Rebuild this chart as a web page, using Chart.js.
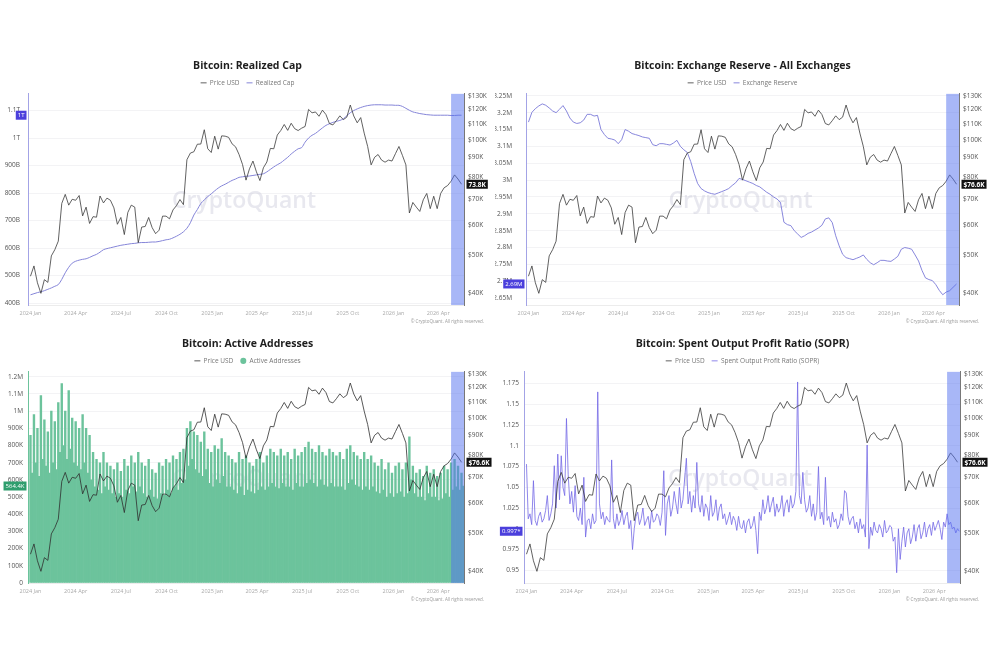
<!DOCTYPE html>
<html><head><meta charset="utf-8">
<script src="https://cdn.jsdelivr.net/npm/chart.js@4.4.1/dist/chart.umd.min.js"></script>
<style>
html,body{margin:0;padding:0;background:#fff;width:990px;height:660px;overflow:hidden;}
canvas{position:absolute;}
</style></head><body>
<canvas id="c1" width="495" height="278" style="left:0px;top:50px"></canvas>
<canvas id="c2" width="495" height="278" style="left:495px;top:50px"></canvas>
<canvas id="c3" width="495" height="278" style="left:0px;top:328px"></canvas>
<canvas id="c4" width="495" height="278" style="left:495px;top:328px"></canvas>
<script>
// ---- x axis (days since 2024-01-01) ----
const quarterTickDays = [0, 91, 182, 274, 366, 456, 547, 639, 731, 821];
const quarterTickLabels = ['2024 Jan','2024 Apr','2024 Jul','2024 Oct','2025 Jan','2025 Apr','2025 Jul','2025 Oct','2026 Jan','2026 Apr'];
const highlightStartDay = 847; // 2026-04-27

// ---- weekly series (from 2024-01-01, every 7 days) ----
const priceUSD = [ // $K
  44.2,47.0,42.5,39.9,43.3,42.6,49.9,51.8,54.5,68.3,
  72.1,67.6,70.0,69.6,71.6,63.4,66.8,60.6,63.1,62.9,
  71.4,68.5,70.5,69.6,66.5,60.3,62.8,56.7,64.7,67.6,
  66.8,54.0,59.3,59.5,62.8,59.1,57.0,58.2,63.3,63.3,
  62.3,65.7,67.4,69.9,67.8,88.7,92.3,93.0,97.3,97.4,
  106.1,94.7,92.6,102.1,94.5,102.3,102.1,101.4,97.5,95.8,
  91.5,86.2,78.5,84.0,88.0,82.5,78.3,84.5,87.5,94.9,
  94.7,102.8,105.6,109.5,105.7,110.3,106.8,105.6,107.1,108.2,
  119.8,117.4,118.0,115.0,119.3,116.2,110.1,109.2,112.0,115.3,
  112.7,114.4,123.0,115.2,110.6,114.1,104.0,96.0,86.0,90.0,
  91.5,88.5,87.4,88.5,88.0,92.0,96.0,91.0,86.0,64.5,
  68.7,66.8,65.1,69.8,72.5,66.2,71.3,66.2,72.5,75.0,
  76.0,78.0,81.0,79.0,76.6
];
const realizedCap = [ // $B
  430,434,438,441,445,450,455,461,467,486,
  510,530,545,552,556,559,561,566,572,577,
  585,594,598,601,604,607,610,612,614,616,
  617,619,620,620,621,622,622,624,627,630,
  632,637,643,650,659,672,692,720,740,762,
  775,787,797,808,818,826,832,839,846,851,
  857,859,861,862,864,866,868,870,877,886,
  895,903,910,920,930,942,952,961,965,985,
  1000,1010,1017,1027,1037,1046,1052,1057,1061,1064,
  1070,1081,1092,1100,1106,1111,1115,1118,1120,1121,
  1121,1121,1120,1120,1120,1119,1119,1115,1108,1101,
  1095,1092,1089,1087,1085,1084,1083,1083,1083,1083,
  1083,1082,1082,1083,1083
];
const exchangeReserve = [ // BTC, millions
  3.172,3.201,3.212,3.220,3.226,3.222,3.214,3.205,3.200,3.210,
  3.221,3.205,3.184,3.172,3.168,3.170,3.178,3.195,3.195,3.190,
  3.192,3.150,3.135,3.124,3.122,3.119,3.108,3.120,3.150,3.145,
  3.138,3.135,3.132,3.128,3.126,3.124,3.105,3.102,3.108,3.108,
  3.106,3.104,3.110,3.118,3.100,3.090,3.082,3.055,3.020,2.990,
  2.975,2.968,2.963,2.960,2.958,2.962,2.966,2.970,2.975,2.984,
  2.992,3.005,3.002,2.998,2.994,2.990,2.984,2.980,2.972,2.964,
  2.958,2.950,2.944,2.934,2.875,2.868,2.865,2.850,2.840,2.830,
  2.835,2.842,2.846,2.852,2.858,2.866,2.885,2.888,2.874,2.835,
  2.805,2.780,2.770,2.767,2.764,2.768,2.772,2.778,2.765,2.755,
  2.749,2.755,2.762,2.762,2.760,2.759,2.766,2.774,2.795,2.800,
  2.798,2.795,2.778,2.760,2.732,2.710,2.705,2.702,2.690,2.673,
  2.660,2.668,2.672,2.682,2.692
];

// ---- half-weekly series (from 2024-01-01, every 3.5 days) ----
const activeAddresses = [ // thousands
  860,640, 980,700, 900,620, 1090,720, 950,680, 880,640, 1000,700, 940,660,
  1050,760, 1160,800, 1000,720, 1120,780, 960,700, 940,680, 900,660, 980,700,
  900,640, 860,600, 760,560, 720,540, 700,520, 760,560, 700,540, 680,520,
  660,500, 700,520, 650,500, 720,540, 680,520, 740,560, 700,530, 760,560,
  700,520, 680,500, 720,540, 660,500, 640,490, 700,520, 680,510, 720,540,
  700,520, 740,560, 720,540, 760,580, 780,600, 900,680, 940,720, 880,660,
  860,640, 820,620, 880,660, 780,580, 760,560, 800,600, 780,580, 840,620,
  760,560, 740,560, 720,540, 700,520, 760,560, 720,510, 740,540, 700,530,
  680,520, 720,540, 760,560, 700,540, 740,560, 780,580, 760,560, 740,550,
  780,580, 740,560, 760,560, 720,540, 780,580, 740,560, 760,560, 790,580,
  820,600, 780,580, 760,560, 800,600, 760,570, 740,560, 780,580, 760,560,
  740,560, 760,560, 720,540, 780,580, 800,600, 760,570, 740,560, 720,540,
  760,560, 720,540, 740,560, 700,530, 680,520, 720,540, 660,500, 700,520,
  640,500, 680,520, 700,530, 660,500, 700,520, 850,600, 680,520, 640,500,
  660,500, 620,480, 680,520, 640,500, 660,500, 620,480, 640,490, 680,520,
  660,500, 700,540, 720,560, 680,540, 640,564.4
];
const soprValues = [
  1.078,1.012, 1.018,1.005, 1.058,1.010, 1.004,1.015, 1.020,1.008, 1.012,1.022, 1.040,1.010, 1.018,1.030,
  1.076,1.025, 1.090,1.035, 1.088,1.050, 1.040,1.133, 1.065,1.030, 1.045,1.020, 1.052,1.015, 1.010,1.025,
  1.005,1.062, 0.990,1.010, 1.012,1.000, 1.018,1.006, 1.010,1.165, 1.030,1.012, 1.020,1.005, 1.015,1.010,
  1.008,1.083, 1.012,1.000, 1.018,1.004, 1.010,1.022, 1.005,1.015, 1.020,1.000, 1.010,0.975, 1.000,1.015,
  1.020,1.005, 1.012,1.025, 1.004,1.010, 1.015,1.000, 1.022,1.008, 1.010,1.018, 1.015,1.004, 1.020,1.070,
  0.992,1.030, 1.040,1.015, 1.025,1.045, 1.030,1.018, 1.050,1.025, 1.035,1.060, 1.085,1.030, 1.045,1.020,
  1.040,1.025, 1.080,1.030, 1.020,1.040, 1.015,1.030, 1.025,1.010, 1.040,1.015, 1.020,1.035, 1.010,1.025,
  1.030,1.012, 1.018,1.005, 1.012,1.020, 1.005,1.015, 1.010,0.998, 1.015,1.002, 1.000,1.010, 0.995,1.008,
  1.012,1.000, 1.004,1.015, 0.998,0.970, 1.020,1.010, 1.035,1.018, 1.025,1.040, 1.020,1.030, 1.038,1.015,
  1.030,1.020, 1.025,1.040, 1.015,1.030, 1.035,1.020, 1.040,1.025, 1.030,1.045, 1.177,1.040, 1.030,1.068,
  1.035,1.020, 1.025,1.040, 1.015,1.030, 1.010,1.020, 1.075,1.012, 1.020,1.005, 1.062,1.010, 1.015,1.002,
  1.020,1.008, 1.012,1.000, 1.005,1.018, 1.010,1.046, 1.043,1.015, 1.005,1.012, 1.015,1.000, 1.008,0.995,
  1.012,1.000, 1.005,0.990, 1.101,0.976, 1.002,0.992, 1.008,0.998, 0.995,1.005, 1.000,0.990, 1.010,0.995,
  0.998,1.004, 1.002,0.985, 0.990,0.947, 1.000,0.963, 0.985,1.002, 0.978,0.995, 1.000,0.982, 0.990,1.005,
  0.985,1.000, 1.005,0.988, 0.995,1.008, 0.990,1.000, 1.005,0.992, 1.008,0.998, 1.004,1.010, 1.000,0.987,
  1.008,1.002, 1.018,1.005, 1.008,1.000, 1.002,0.995, 1.000,0.997
];

// ---- axis ticks ----
const priceTicks = [40,50,60,70,80,90,100,110,120,130];
const priceTickLabels = ['$40K','$50K','$60K','$70K','$80K','$90K','$100K','$110K','$120K','$130K'];
const capTicks = [400,500,600,700,800,900,1000,1100];
const capTickLabels = ['400B','500B','600B','700B','800B','900B','1T','1.1T'];
const reserveTicks = [2.65,2.7,2.75,2.8,2.85,2.9,2.95,3.0,3.05,3.1,3.15,3.2,3.25];
const reserveTickLabels = ['2.65M','2.7M','2.75M','2.8M','2.85M','2.9M','2.95M','3M','3.05M','3.1M','3.15M','3.2M','3.25M'];
const activeTicks = [0,100,200,300,400,500,600,700,800,900,1000,1100,1200];
const activeTickLabels = ['0','100K','200K','300K','400K','500K','600K','700K','800K','900K','1M','1.1M','1.2M'];
const soprTicks = [0.95,0.975,1.0,1.025,1.05,1.075,1.1,1.125,1.15,1.175];
const soprTickLabels = ['0.95','0.975','1','1.025','1.05','1.075','1.1','1.125','1.15','1.175'];

const leftBadgeTexts = ['1T','2.69M','564.4K','0.997*'];
const rightBadgeTexts = ['73.8K','$76.6K','$76.6K','$76.6K'];

const FONT = '"Open Sans", "Noto Sans", sans-serif';
Chart.defaults.font.family = FONT;

const weekly = arr => arr.map((v,i)=>({x:i*7, y:v}));
const halfWeekly = arr => arr.map((v,i)=>({x:i*3.5, y:v}));

// force title/legend block heights so the plot area starts where the reference does
const fixBlocks = {
  id:'fixBlocks',
  beforeUpdate(chart){
    if (chart.$fixed) return;
    const tb = chart.titleBlock, lg = chart.legend;
    if (tb){ const f = tb.fit; tb.fit = function(){ f.call(this); this.height = 18.75; }; }
    if (lg){ const f = lg.fit; lg.fit = function(){ f.call(this); this.height = 21.25; }; }
    chart.$fixed = true;
  }
};

const decor = {
  id:'decor',
  beforeDatasetsDraw(chart){
    const {ctx, chartArea:a} = chart;
    ctx.save();
    ctx.font = '600 23px ' + FONT;
    ctx.fillStyle = 'rgba(200,200,218,0.42)';
    ctx.textAlign = 'center'; ctx.textBaseline = 'middle';
    ctx.fillText('CryptoQuant', (a.left+a.right)/2 - 2, (a.top+a.bottom)/2 + 2);
    ctx.restore();
  },
  afterDatasetsDraw(chart, args, o){
    const {ctx, chartArea:a} = chart;
    const x1 = chart.scales.x.getPixelForValue(o.bandStart);
    ctx.save();
    ctx.fillStyle = 'rgba(82,112,240,0.5)';
    ctx.fillRect(x1, a.top, a.right - x1, a.bottom - a.top);
    ctx.restore();
  },
  afterDraw(chart, args, o){
    const {ctx, chartArea:a} = chart;
    ctx.save();
    ctx.textBaseline = 'middle';
    // left current value badge
    const yl = chart.scales.yL.getPixelForValue(o.leftValue);
    ctx.font = '6px ' + FONT;
    let tw = ctx.measureText(o.leftText).width;
    let w = tw + 4, h = 9, xr = a.left - 1.5;
    ctx.fillStyle = o.leftColor;
    ctx.fillRect(xr - w, yl - h/2, w, h);
    ctx.fillStyle = '#fff'; ctx.textAlign = 'right';
    ctx.fillText(o.leftText, xr - 2, yl + 0.5);
    // right price badge
    const yr = chart.scales.yR.getPixelForValue(o.rightValue);
    ctx.font = 'bold 6.5px ' + FONT;
    tw = ctx.measureText(o.rightText).width;
    w = tw + 4; const xl = a.right + 2.5;
    ctx.fillStyle = '#111';
    ctx.fillRect(xl, yr - h/2, w, h);
    ctx.fillStyle = '#fff'; ctx.textAlign = 'left';
    ctx.fillText(o.rightText, xl + 2, yr + 0.5);
    // copyright
    ctx.font = '4.5px ' + FONT;
    ctx.fillStyle = '#999'; ctx.textAlign = 'right';
    ctx.fillText('\u00A9 CryptoQuant. All rights reserved.', 484, 272);
    ctx.restore();
  }
};

function makeChart(id, p){
  const priceDs = {
    type:'line', label:'Price USD', data: weekly(priceUSD), yAxisID:'yR',
    borderColor: p.priceColor || '#3a3a3a', borderWidth: 0.8, pointRadius: 0, tension: 0,
    pointStyle:'line'
  };
  const datasets = [priceDs, p.metric];
  return new Chart(document.getElementById(id), {
    type: 'line',
    data: { datasets },
    plugins: [fixBlocks, decor],
    options: {
      responsive:false, animation:false, devicePixelRatio:1,
      layout:{padding:0},
      events: [],
      plugins:{
        title:{display:true, text:p.title, color:'#1e1e1e',
          font:{family:FONT, size:10.5, weight:'bold'}, padding:{top:10, bottom:0}},
        legend:{display:true, labels:{usePointStyle:true, pointStyleWidth:6, boxHeight:4.5, padding:7,
          color:'#777', font:{family:FONT, size:6.5}}},
        tooltip:{enabled:false},
        decor:{bandStart: highlightStartDay, leftValue: p.leftValue, leftText: p.leftText,
          leftColor: p.leftBadgeColor, rightValue: priceUSD[priceUSD.length-1], rightText: p.rightText}
      },
      scales:{
        x:{type:'linear', min:-5, max:873, offset:false,
          afterBuildTicks: s => { s.ticks = quarterTickDays.map(v=>({value:v})); },
          ticks:{callback:(v,i)=>quarterTickLabels[i], color:'#aaa', font:{size:5.5}, padding:5,
            maxRotation:0, autoSkip:false},
          grid:{display:false, drawTicks:false, offset:false}, border:{display:true, color:'#ececec'},
          afterFit: s => { s.height = 23; }},
        yL:{type:'linear', position:'left', min:p.leftMin, max:p.leftMax,
          afterBuildTicks: s => { s.ticks = p.leftTicks.map(v=>({value:v})); },
          ticks:{callback:(v,i)=>p.leftTickLabels[i], color:'#555', font:{size:6.5}, padding:p.leftPad, autoSkip:false},
          grid:{color:'#f3f3f5', drawTicks:false}, border:{display:true, color:p.leftBorder, width:1},
          afterFit: s => { s.width = p.leftW; }},
        yR:{type:'logarithmic', position:'right', min:37.21, max:131.5,
          afterBuildTicks: s => { s.ticks = priceTicks.map(v=>({value:v})); },
          ticks:{callback:(v,i)=>priceTickLabels[i], color:'#555', font:{size:6.5}, padding:4, autoSkip:false},
          grid:{display:false, drawTicks:false}, border:{display:true, color:'#777', width:1},
          afterFit: s => { s.width = p.rightW; }}
      }
    }
  });
}

makeChart('c1', {
  title:'Bitcoin: Realized Cap',
  metric:{type:'line', label:'Realized Cap', data: weekly(realizedCap), yAxisID:'yL',
    borderColor:'#8585d8', borderWidth:1, pointRadius:0, tension:0.3, pointStyle:'line'},
  leftMin:392.9, leftMax:1160.7, leftTicks:capTicks, leftTickLabels:capTickLabels,
  leftW:28, leftPad:8, rightW:31, leftBorder:'#a3a3e6',
  leftValue: realizedCap[realizedCap.length-1], leftText:leftBadgeTexts[0], leftBadgeColor:'#4b3fdc',
  rightText:rightBadgeTexts[0]
});
makeChart('c2', {
  title:'Bitcoin: Exchange Reserve - All Exchanges',
  metric:{type:'line', label:'Exchange Reserve', data: weekly(exchangeReserve), yAxisID:'yL',
    borderColor:'#7b79d8', borderWidth:0.9, pointRadius:0, tension:0, pointStyle:'line'},
  leftMin:2.6296, leftMax:3.2558, leftTicks:reserveTicks, leftTickLabels:reserveTickLabels,
  leftW:31, leftPad:14, rightW:31, leftBorder:'#a3a3e6',
  leftValue: exchangeReserve[exchangeReserve.length-1], leftText:leftBadgeTexts[1], leftBadgeColor:'#4b3fdc',
  rightText:rightBadgeTexts[1]
});
makeChart('c3', {
  title:'Bitcoin: Active Addresses',
  priceColor:'#2f2f2f',
  metric:{type:'bar', label:'Active Addresses', data: halfWeekly(activeAddresses), yAxisID:'yL',
    backgroundColor:'#6cc39c', borderWidth:0, barPercentage:1, categoryPercentage:1, pointStyle:'circle'},
  leftMin:0, leftMax:1228.7, leftTicks:activeTicks, leftTickLabels:activeTickLabels,
  leftW:28, leftPad:5, rightW:31, leftBorder:'#6cc39c',
  leftValue: activeAddresses[activeAddresses.length-1], leftText:leftBadgeTexts[2], leftBadgeColor:'#2f9e6e',
  rightText:rightBadgeTexts[2]
});
makeChart('c4', {
  title:'Bitcoin: Spent Output Profit Ratio (SOPR)',
  metric:{type:'line', label:'Spent Output Profit Ratio (SOPR)', data: halfWeekly(soprValues), yAxisID:'yL',
    borderColor:'#7468e6', borderWidth:0.8, pointRadius:0, tension:0, pointStyle:'line'},
  leftMin:0.9346, leftMax:1.1892, leftTicks:soprTicks, leftTickLabels:soprTickLabels,
  leftW:29, leftPad:5, rightW:30, leftBorder:'#a3a3e6',
  leftValue: soprValues[soprValues.length-1], leftText:leftBadgeTexts[3], leftBadgeColor:'#4b3fdc',
  rightText:rightBadgeTexts[3]
});
</script>
</body></html>
